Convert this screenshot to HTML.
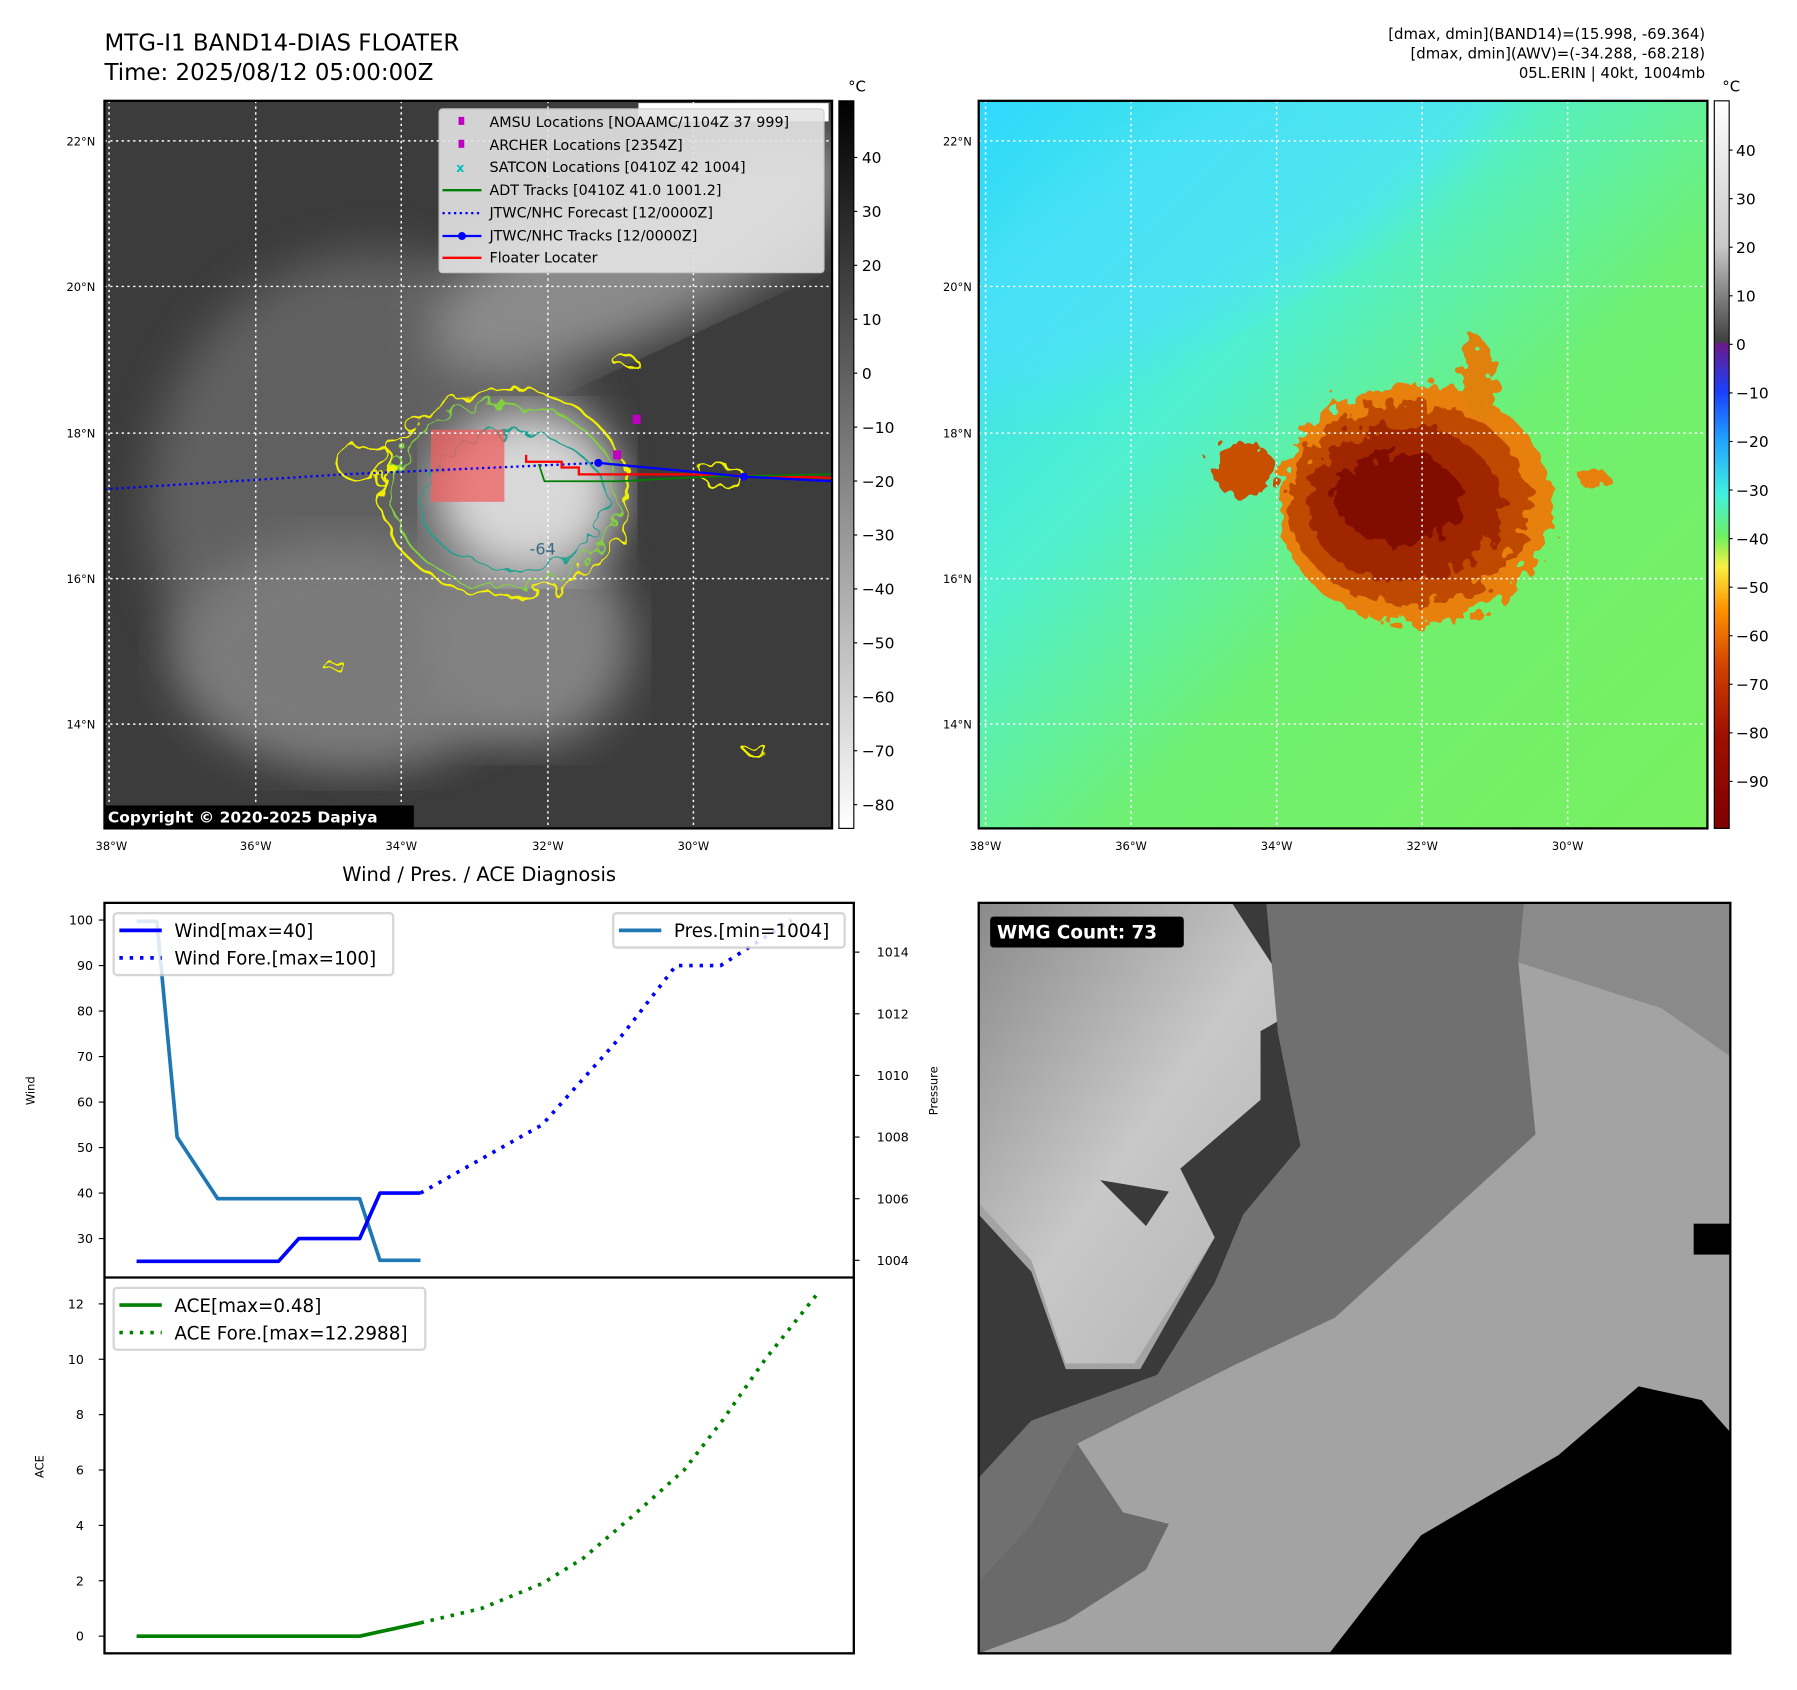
<!DOCTYPE html>
<html><head><meta charset="utf-8"><style>
html,body{margin:0;padding:0;background:#fff;}
svg{display:block;font-family:"DejaVu Sans","Liberation Sans",sans-serif;}
</style></head><body>
<svg id="root" width="1797" height="1690" viewBox="0 0 1568 1475" xmlns="http://www.w3.org/2000/svg">
<defs>
<filter id="blur8"><feGaussianBlur stdDeviation="8"/></filter>
<filter id="blur20"><feGaussianBlur stdDeviation="20"/></filter>
<filter id="jag" x="-20%" y="-20%" width="140%" height="140%"><feTurbulence type="fractalNoise" baseFrequency="0.06" numOctaves="2" seed="3"/><feDisplacementMap in="SourceGraphic" scale="22"/></filter>
<filter id="jag2" x="-20%" y="-20%" width="140%" height="140%"><feTurbulence type="fractalNoise" baseFrequency="0.09" numOctaves="2" seed="7"/><feDisplacementMap in="SourceGraphic" scale="28"/></filter>
<clipPath id="cl"><rect x="91" y="88" width="635" height="635"/></clipPath>
<clipPath id="cr"><rect x="854" y="88" width="636" height="635"/></clipPath>
<clipPath id="cb"><rect x="854" y="788" width="656" height="655"/></clipPath>
<linearGradient id="gbar1" x1="0" y1="0" x2="0" y2="1"><stop offset="0" stop-color="#000"/><stop offset="1" stop-color="#fff"/></linearGradient>
<linearGradient id="gbar2" x1="0" y1="0" x2="0" y2="1">
<stop offset="0" stop-color="#ffffff"/><stop offset="0.2" stop-color="#c8c8c8"/><stop offset="0.33" stop-color="#404040"/><stop offset="0.335" stop-color="#6a1a8a"/><stop offset="0.4" stop-color="#1a40ff"/><stop offset="0.47" stop-color="#20a8ff"/><stop offset="0.54" stop-color="#40f0e0"/><stop offset="0.6" stop-color="#70f060"/><stop offset="0.64" stop-color="#f8f040"/><stop offset="0.7" stop-color="#ff9000"/><stop offset="0.78" stop-color="#d04000"/><stop offset="0.87" stop-color="#a01000"/><stop offset="1" stop-color="#800000"/></linearGradient>
<linearGradient id="gsky" x1="0" y1="0" x2="1" y2="1"><stop offset="0" stop-color="#30d8ff"/><stop offset="0.35" stop-color="#50f0d0"/><stop offset="0.6" stop-color="#70f070"/><stop offset="1" stop-color="#78f060"/></linearGradient>
<linearGradient id="gul" x1="0" y1="0" x2="1" y2="1"><stop offset="0" stop-color="#8a8a8a"/><stop offset="0.5" stop-color="#c8c8c8"/><stop offset="1" stop-color="#b0b0b0"/></linearGradient>
</defs>

<text x="91" y="44" font-size="20">MTG-I1 BAND14-DIAS FLOATER</text>
<text x="91" y="70" font-size="20">Time: 2025/08/12 05:00:00Z</text>
<g font-size="13" text-anchor="end">
<text x="1488" y="34">[dmax, dmin](BAND14)=(15.998, -69.364)</text>
<text x="1488" y="51">[dmax, dmin](AWV)=(-34.288, -68.218)</text>
<text x="1488" y="68">05L.ERIN | 40kt, 1004mb</text>
</g>

<!-- Left IR map -->
<g clip-path="url(#cl)">
<rect x="91" y="88" width="635" height="635" fill="#3c3c3c"/>
<ellipse cx="330" cy="440" rx="200" ry="220" fill="#6a6a6a" filter="url(#blur20)" opacity="0.8"/>
<ellipse cx="300" cy="570" rx="150" ry="100" fill="#7a7a7a" filter="url(#blur20)"/>
<ellipse cx="560" cy="220" rx="200" ry="70" fill="#8a8a8a" filter="url(#blur20)" transform="rotate(-25 560 220)"/>
<ellipse cx="460" cy="560" rx="90" ry="90" fill="#828282" filter="url(#blur20)"/>
<ellipse cx="460" cy="430" rx="80" ry="70" fill="#d8d8d8" filter="url(#blur20)"/>
<g fill="none" filter="url(#jag)">
<ellipse cx="440" cy="430" rx="108" ry="90" stroke="#f0f000" stroke-width="2"/>
<ellipse cx="440" cy="432" rx="98" ry="80" stroke="#80d040" stroke-width="1.6"/>
<ellipse cx="448" cy="438" rx="80" ry="60" stroke="#20a090" stroke-width="1.6"/>
<ellipse cx="320" cy="405" rx="26" ry="16" stroke="#f0f000" stroke-width="2"/>
<ellipse cx="545" cy="315" rx="10" ry="5" stroke="#f0f000" stroke-width="2"/>
<ellipse cx="290" cy="580" rx="9" ry="4" stroke="#f0f000" stroke-width="2"/>
<ellipse cx="660" cy="655" rx="9" ry="5" stroke="#f0f000" stroke-width="2"/>
<ellipse cx="630" cy="415" rx="18" ry="10" stroke="#f0f000" stroke-width="2"/>
</g>
<text x="462" y="484" font-size="14" fill="#3a6a80">-64</text>
<rect x="376" y="375" width="64" height="63" fill="#f06060" opacity="0.75"/>
<g stroke="#fff" stroke-width="1.3" stroke-dasharray="2,3">
<line x1="95" y1="88" x2="95" y2="723"/><line x1="223" y1="88" x2="223" y2="723"/><line x1="350" y1="88" x2="350" y2="723"/><line x1="478" y1="88" x2="478" y2="723"/><line x1="605" y1="88" x2="605" y2="723"/>
<line x1="91" y1="123" x2="726" y2="123"/><line x1="91" y1="250" x2="726" y2="250"/><line x1="91" y1="378" x2="726" y2="378"/><line x1="91" y1="505" x2="726" y2="505"/><line x1="91" y1="632" x2="726" y2="632"/>
</g>
<polyline points="91,427 300,414 522,404" fill="none" stroke="#0000ff" stroke-width="2" stroke-dasharray="2,3"/>
<polyline points="459,397 459,403 490,403 490,408 505,408 505,414 560,414 600,414 726,417" fill="none" stroke="#ff0000" stroke-width="2"/>
<polyline points="470,405 475,420 540,420 620,416 726,414" fill="none" stroke="#008000" stroke-width="1.5"/>
<polyline points="522,404 649,416 726,420" fill="none" stroke="#0000ff" stroke-width="2"/>
<circle cx="522" cy="404" r="3.5" fill="#0000ff"/><circle cx="649" cy="416" r="3.5" fill="#0000ff"/>
<rect x="552" y="362" width="7" height="8" fill="#c000c0"/>
<rect x="535" y="393" width="7" height="8" fill="#c000c0"/>
<rect x="557" y="90" width="166" height="16" fill="#fff"/>
<rect x="91" y="703" width="270" height="20" fill="#000"/>
<text x="94" y="718" font-size="13.5" font-weight="bold" fill="#fff">Copyright © 2020-2025 Dapiya</text>
</g>
<rect x="91" y="88" width="635" height="635" fill="none" stroke="#000" stroke-width="2"/>
<g>
<rect x="383" y="95" width="336" height="143" rx="3" fill="#e4e4e4" opacity="0.9" stroke="#ccc"/>
<g font-size="12.5">
<rect x="400" y="102" width="5" height="7" fill="#c000c0"/><text x="427" y="111">AMSU Locations [NOAAMC/1104Z 37 999]</text>
<rect x="400" y="122" width="5" height="7" fill="#c000c0"/><text x="427" y="131">ARCHER Locations [2354Z]</text>
<text x="398" y="150" fill="#00c0c0" font-weight="bold" font-size="11">x</text><text x="427" y="150">SATCON Locations [0410Z 42 1004]</text>
<line x1="386" y1="166" x2="420" y2="166" stroke="#008000" stroke-width="2"/><text x="427" y="170">ADT Tracks [0410Z 41.0 1001.2]</text>
<line x1="386" y1="186" x2="420" y2="186" stroke="#0000ff" stroke-width="2" stroke-dasharray="2,3"/><text x="427" y="190">JTWC/NHC Forecast [12/0000Z]</text>
<line x1="386" y1="206" x2="420" y2="206" stroke="#0000ff" stroke-width="2"/><circle cx="403" cy="206" r="3.5" fill="#0000ff"/><text x="427" y="210">JTWC/NHC Tracks [12/0000Z]</text>
<line x1="386" y1="225" x2="420" y2="225" stroke="#ff0000" stroke-width="2"/><text x="427" y="229">Floater Locater</text>
</g></g>
<g font-size="10">
<g text-anchor="end"><text x="83" y="127">22°N</text><text x="83" y="254">20°N</text><text x="83" y="382">18°N</text><text x="83" y="509">16°N</text><text x="83" y="636">14°N</text></g>
<g text-anchor="middle"><text x="97" y="742">38°W</text><text x="223" y="742">36°W</text><text x="350" y="742">34°W</text><text x="478" y="742">32°W</text><text x="605" y="742">30°W</text></g>
</g>
<g>
<rect x="732" y="88" width="13" height="635" fill="url(#gbar1)" stroke="#000" stroke-width="1"/>
<text x="740" y="80" font-size="13">°C</text>
<g font-size="13.5" id="cb1"></g>
</g>

<!-- Right map -->
<g clip-path="url(#cr)">
<rect x="854" y="88" width="636" height="635" fill="url(#gsky)"/>
<ellipse cx="1060" cy="180" rx="300" ry="90" fill="#50e0ff" filter="url(#blur20)" opacity="0.6" transform="rotate(-30 1060 180)"/>
<g filter="url(#jag2)">
<ellipse cx="1235" cy="440" rx="120" ry="105" fill="#e88010"/>
<ellipse cx="1085" cy="410" rx="28" ry="24" fill="#c85000"/>
<ellipse cx="1290" cy="330" rx="14" ry="35" fill="#e08010"/>
<ellipse cx="1230" cy="440" rx="105" ry="88" fill="#c04800"/>
<ellipse cx="1225" cy="440" rx="85" ry="68" fill="#a02800"/>
<ellipse cx="1220" cy="435" rx="55" ry="40" fill="#800800"/>
<ellipse cx="1390" cy="417" rx="12" ry="10" fill="#e88010"/>
</g>
<g stroke="#fff" stroke-width="1.3" stroke-dasharray="2,3">
<line x1="860" y1="88" x2="860" y2="723"/><line x1="987" y1="88" x2="987" y2="723"/><line x1="1114" y1="88" x2="1114" y2="723"/><line x1="1241" y1="88" x2="1241" y2="723"/><line x1="1368" y1="88" x2="1368" y2="723"/>
<line x1="854" y1="123" x2="1490" y2="123"/><line x1="854" y1="250" x2="1490" y2="250"/><line x1="854" y1="378" x2="1490" y2="378"/><line x1="854" y1="505" x2="1490" y2="505"/><line x1="854" y1="632" x2="1490" y2="632"/>
</g>
</g>
<rect x="854" y="88" width="636" height="635" fill="none" stroke="#000" stroke-width="2"/>
<g font-size="10">
<g text-anchor="end"><text x="848" y="127">22°N</text><text x="848" y="254">20°N</text><text x="848" y="382">18°N</text><text x="848" y="509">16°N</text><text x="848" y="636">14°N</text></g>
<g text-anchor="middle"><text x="860" y="742">38°W</text><text x="987" y="742">36°W</text><text x="1114" y="742">34°W</text><text x="1241" y="742">32°W</text><text x="1368" y="742">30°W</text></g>
</g>
<g>
<rect x="1496" y="88" width="13" height="635" fill="url(#gbar2)" stroke="#000" stroke-width="1"/>
<text x="1503" y="80" font-size="13">°C</text>
<g font-size="13.5" id="cb2"></g>
</g>

<!-- Diagnosis chart -->
<text x="418" y="769" font-size="17" text-anchor="middle">Wind / Pres. / ACE Diagnosis</text>
<g id="diag"></g>

<!-- WMG panel -->
<g clip-path="url(#cb)">
<rect x="854" y="788" width="656" height="655" fill="#a3a3a3"/>
<polygon points="1330,788 1510,788 1510,922 1450,880 1325,840" fill="#8a8a8a"/>
<polygon points="854,788 1100,788 1135,880 1100,900 1100,960 1030,1020 1060,1080 990,1190 930,1190 900,1100 854,1050" fill="url(#gul)"/>
<polygon points="1075,788 1140,788 1115,900 1135,1000 1085,1060 1060,1120 1010,1200 900,1240 854,1290 854,1060 900,1110 930,1195 995,1195 1060,1080 1030,1020 1100,960 1100,900 1135,880" fill="#3a3a3a"/>
<polygon points="1105,788 1330,788 1325,840 1340,990 1165,1150 1080,1190 940,1260 900,1330 854,1380 854,1290 900,1240 1010,1200 1060,1120 1085,1060 1135,1000 1115,900" fill="#707070"/>
<polygon points="854,1380 900,1330 940,1260 980,1320 1020,1330 1000,1370 930,1415 854,1443" fill="#6a6a6a"/>
<polygon points="960,1030 1020,1040 1000,1070" fill="#3a3a3a"/>
<polygon points="1160,1443 1240,1340 1360,1270 1430,1210 1485,1222 1510,1250 1510,1443" fill="#000"/>
<rect x="1478" y="1068" width="32" height="27" fill="#000"/>
</g>
<rect x="854" y="788" width="656" height="655" fill="none" stroke="#000" stroke-width="2"/>
<rect x="864" y="800" width="169" height="27" rx="3" fill="#000"/>
<text x="870" y="819" font-size="16" font-weight="bold" fill="#fff">WMG Count: 73</text>
</svg>
<script>
// Colorbar ticks
const cb1Ticks = [40,30,20,10,0,-10,-20,-30,-40,-50,-60,-70,-80];
const cb2Ticks = [40,30,20,10,0,-10,-20,-30,-40,-50,-60,-70,-80,-90];
// Diagnosis chart data (x = 6-hourly index)
const windX = [0,1,2,3,4,5,6,7,8,9,10,11,12,13,14];
const windVal = [25,25,25,25,25,25,25,25,30,30,30,30,40,40,40];
const presVal = [1015,1015,1008,1007,1006,1006,1006,1006,1006,1006,1006,1006,1004,1004,1004];
const foreX = [14,20,24,26.6,28.8,32.3];
const foreWind = [40,55,75,90,90,100];
const aceVal = [0,0,0,0,0,0,0,0,0,0,0,0,0.16,0.32,0.48];
const aceForeX = [14,17,20,22,24.4,27,28.9,31,33.5];
const aceFore = [0.48,1.0,1.9,2.8,4.3,6.0,7.8,10.0,12.3];
const windTicks = [30,40,50,60,70,80,90,100];
const presTicks = [1004,1006,1008,1010,1012,1014];
const aceTicks = [0,2,4,6,8,10,12];

const NS='http://www.w3.org/2000/svg';
function mk(tag, attrs, parent){const e=document.createElementNS(NS,tag);for(const k in attrs)e.setAttribute(k,attrs[k]);parent.appendChild(e);return e;}

const cb1=document.getElementById('cb1');
const cb1y=v=>723-(v+84.4)/(50.5+84.4)*635;
cb1Ticks.forEach(v=>{const t=mk('text',{x:752,y:cb1y(v)+5},cb1);t.textContent=(v<0?'\u2212':'')+Math.abs(v);


mk('line',{x1:745,x2:748,y1:cb1y(v),y2:cb1y(v),stroke:'#000'},cb1);});
const cb2=document.getElementById('cb2');
const cb2y=v=>131+(40-v)*(682-131)/130;
cb2Ticks.forEach(v=>{const t=mk('text',{x:1515,y:cb2y(v)+5},cb2);t.textContent=(v<0?'\u2212':'')+Math.abs(v);


mk('line',{x1:1509,x2:1512,y1:cb2y(v),y2:cb2y(v),stroke:'#000'},cb2);});

const g=document.getElementById('diag');
const L=91,R=745,T1=788,M=1115,B=1443;
const xs=i=>119+i*17.7;
const yW=v=>803+(100-v)*(1081-803)/70;
const yP=v=>831+(1014-v)*(1100-831)/10;
const yA=v=>1428-v*(1428-1138)/12;
const pts=(X,Y,f)=>X.map((x,i)=>xs(x)+','+f(Y[i])).join(' ');
function line(X,Y,f,col,dash,name){const p=mk('polyline',{points:pts(X,Y,f),fill:'none',stroke:col,'stroke-width':3.2,'stroke-dasharray':dash||'none','stroke-linejoin':'round'},g);

}
line(windX,presVal,yP,'#1f77b4',null,'pressure-line');
line(windX,windVal,yW,'#0000ff',null,'wind-line');
line(foreX,foreWind,yW,'#0000ff','3,6','wind-forecast-line');
line(windX,aceVal,yA,'#008000',null,'ace-line');
line(aceForeX,aceFore,yA,'#008000','3,6','ace-forecast-line');
mk('rect',{x:L,y:T1,width:R-L,height:B-T1,fill:'none',stroke:'#000','stroke-width':2},g);
mk('line',{x1:L,x2:R,y1:M,y2:M,stroke:'#000','stroke-width':2},g);
windTicks.forEach(v=>{mk('line',{x1:L-5,x2:L,y1:yW(v),y2:yW(v),stroke:'#000'},g);const t=mk('text',{x:L-10,y:yW(v)+4,'font-size':11,'text-anchor':'end'},g);t.textContent=v;

});
presTicks.forEach(v=>{mk('line',{x1:R,x2:R+5,y1:yP(v),y2:yP(v),stroke:'#000'},g);const t=mk('text',{x:R+20,y:yP(v)+4,'font-size':11},g);t.textContent=v;

});
aceTicks.forEach(v=>{mk('line',{x1:L-5,x2:L,y1:yA(v),y2:yA(v),stroke:'#000'},g);const t=mk('text',{x:L-18,y:yA(v)+4,'font-size':11,'text-anchor':'end'},g);t.textContent=v;

});
const yl=mk('text',{x:30,y:952,'font-size':10,'text-anchor':'middle',transform:'rotate(-90 30 952)'},g);yl.textContent='Wind';
const pl=mk('text',{x:818,y:952,'font-size':10,'text-anchor':'middle',transform:'rotate(-90 818 952)'},g);pl.textContent='Pressure';
const al=mk('text',{x:38,y:1280,'font-size':10,'text-anchor':'middle',transform:'rotate(-90 38 1280)'},g);al.textContent='ACE';
function legend(x,y,w,h,items,name){const lg=mk('g',{},g);


mk('rect',{x:x,y:y,width:w,height:h,rx:3,fill:'#fff',stroke:'#d0d0d0','stroke-width':2,opacity:0.85},lg);
items.forEach((it,i)=>{const yy=y+15+i*24;mk('line',{x1:x+5,x2:x+42,y1:yy,y2:yy,stroke:it[1],'stroke-width':3.2,'stroke-dasharray':it[2]||'none'},lg);const t=mk('text',{x:x+53,y:yy+6,'font-size':16},lg);t.textContent=it[0];});}
legend(99,797,244,54,[['Wind[max=40]','#0000ff'],['Wind Fore.[max=100]','#0000ff','3,6']],'wind-legend');
legend(535,797,202,30,[['Pres.[min=1004]','#1f77b4']],'pressure-legend');
legend(99,1124,272,54,[['ACE[max=0.48]','#008000'],['ACE Fore.[max=12.2988]','#008000','3,6']],'ace-legend');
</script>
</body></html>
